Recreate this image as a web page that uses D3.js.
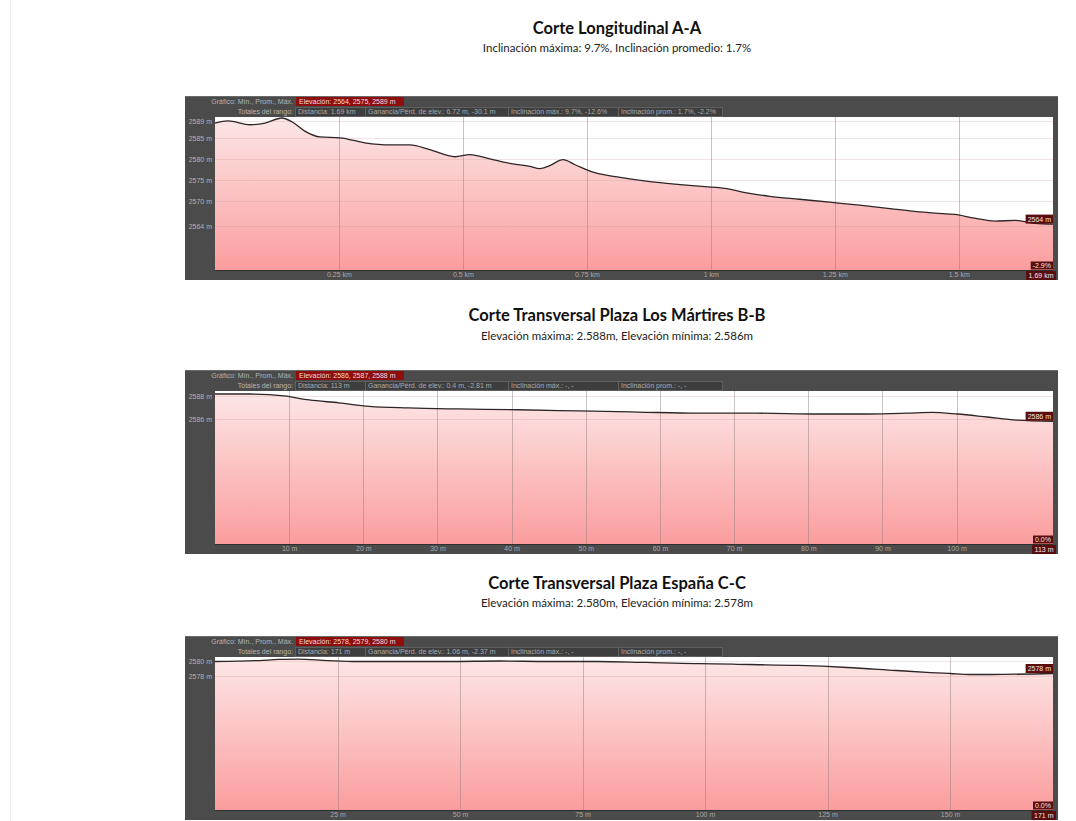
<!DOCTYPE html>
<html><head><meta charset="utf-8">
<script src="https://cdn.jsdelivr.net/npm/d3@7"></script>
<style>
html,body{margin:0;padding:0;background:#fff;}
svg{display:block;}
</style></head>
<body>
<svg id="chart" width="1076" height="821"></svg>
<script>
// ---------- DATA ----------
const titles = ["Corte Longitudinal A-A", "Corte Transversal Plaza Los Mártires B-B", "Corte Transversal Plaza España C-C"];
const subtitles = ["Inclinación máxima: 9.7%, Inclinación promedio: 1.7%", "Elevación máxima: 2.588m, Elevación mínima: 2.586m", "Elevación máxima: 2.580m, Elevación mínima: 2.578m"];
const elevSummary = ["Elevación: 2564, 2575, 2589 m", "Elevación: 2586, 2587, 2588 m", "Elevación: 2578, 2579, 2580 m"];
const distSummary = ["Distancia: 1.69 km", "Distancia: 113 m", "Distancia: 171 m"];
const gainSummary = ["Ganancia/Pérd. de elev.: 6.72 m, -30.1 m", "Ganancia/Pérd. de elev.: 0.4 m, -2.81 m", "Ganancia/Pérd. de elev.: 1.06 m, -2.37 m"];
const slopeMaxSummary = ["Inclinación máx.: 9.7%, -12.6%", "Inclinación máx.: -, -", "Inclinación máx.: -, -"];
const slopeAvgSummary = ["Inclinación prom.: 1.7%, -2.2%", "Inclinación prom.: -, -", "Inclinación prom.: -, -"];
const endElevLabels = ["2564 m", "2586 m", "2578 m"];
const endSlopeLabels = ["-2.9%", "0.0%", "0.0%"];
const totalDistLabels = ["1.69 km", "113 m", "171 m"];

// Panel A (km, m)
const distA = [0,0.026,0.071,0.101,0.135,0.155,0.181,0.212,0.252,0.302,0.353,0.393,0.433,0.484,0.514,0.554,0.595,0.635,0.655,0.675,0.702,0.726,0.766,0.817,0.877,0.938,0.988,1.028,1.069,1.119,1.179,1.240,1.300,1.361,1.411,1.452,1.492,1.532,1.573,1.613,1.653,1.69];
const elevA = [2588.5,2589.0,2588.1,2588.5,2589.7,2588.8,2586.6,2585.2,2585.0,2583.8,2583.3,2583.3,2582.2,2580.5,2581.0,2580.0,2578.9,2578.2,2577.7,2578.4,2579.8,2578.6,2576.7,2575.6,2574.6,2573.9,2573.4,2573.0,2572.0,2571.1,2570.4,2569.7,2569.0,2568.2,2567.5,2567.1,2566.8,2565.9,2565.2,2565.4,2564.7,2564.5];
const yTicksA = [2589,2585,2580,2575,2570,2564];
const xTicksA = [0.25,0.5,0.75,1,1.25,1.5];
const xTickLabelsA = ["0.25 km","0.5 km","0.75 km","1 km","1.25 km","1.5 km"];

// Panel B (m, m)
const distB = [0,4.6,9.3,12.7,16.7,20.8,26.1,32.8,40.9,49.0,57.0,65.1,73.1,81.3,88.0,93.3,96.7,100.1,104.1,108.1,113];
const elevB = [2588.17,2588.17,2588.0,2587.65,2587.4,2587.1,2586.96,2586.87,2586.8,2586.7,2586.6,2586.5,2586.5,2586.43,2586.43,2586.5,2586.57,2586.43,2586.17,2585.9,2585.8];
const yTicksB = [2588,2586];
const xTicksB = [10,20,30,40,50,60,70,80,90,100];
const xTickLabelsB = ["10 m","20 m","30 m","40 m","50 m","60 m","70 m","80 m","90 m","100 m"];

// Panel C (m, m)
const distC = [0,9,13,17,23,29,38,48,58,68,78,88,98,99,109,119,129,139,146,150,154,158,171];
const elevC = [2580.0,2580.13,2580.27,2580.33,2580.13,2580.0,2580.0,2580.0,2580.07,2580.0,2580.0,2579.87,2579.73,2579.73,2579.6,2579.47,2579.2,2578.8,2578.53,2578.4,2578.27,2578.27,2578.4];
const yTicksC = [2580,2578];
const xTicksC = [25,50,75,100,125,150];
const xTickLabelsC = ["25 m","50 m","75 m","100 m","125 m","150 m"];

// ---------- LAYOUT ----------
const svg = d3.select("#chart");
const defs = svg.append("defs");
const frameX0 = 185, frameX1 = 1058, plotX0 = 215, plotX1 = 1053;
const uiFont = "'Liberation Sans', Arial, sans-serif";
const uiSize = 7;
const titleFont = "Lato, 'Open Sans', sans-serif";

svg.append("line").attr("x1",10.5).attr("x2",10.5).attr("y1",0).attr("y2",821).attr("stroke","#efefef");

const panels = [
  {dist:distA, elev:elevA, yTicks:yTicksA, xTicks:xTicksA, xLabels:xTickLabelsA, maxD:1.69,
   titleY:34, subY:52, frameTop:96, yTop:2589.94, yBot:2553.6},
  {dist:distB, elev:elevB, yTicks:yTicksB, xTicks:xTicksB, xLabels:xTickLabelsB, maxD:113,
   titleY:321, subY:340, frameTop:370, yTop:2588.43, yBot:2575.13},
  {dist:distC, elev:elevC, yTicks:yTicksC, xTicks:xTicksC, xLabels:xTickLabelsC, maxD:171,
   titleY:589, subY:607, frameTop:636, yTop:2580.6, yBot:2560.2}
];

panels.forEach((p, i) => {
  const g = svg.append("g");
  const plotTop = p.frameTop + 21, plotBottom = p.frameTop + 174, frameBottom = p.frameTop + 184;
  g.append("text").attr("x",617).attr("y",p.titleY).attr("text-anchor","middle")
    .attr("font-family",titleFont).attr("font-weight","bold").attr("font-size",16.5).attr("fill","#111")
    .text(titles[i]);
  g.append("text").attr("x",617).attr("y",p.subY).attr("text-anchor","middle")
    .attr("font-family",titleFont).attr("font-size",11.5).attr("fill","#222")
    .text(subtitles[i]);

  g.append("rect").attr("x",frameX0).attr("y",p.frameTop).attr("width",frameX1-frameX0).attr("height",frameBottom-p.frameTop)
    .attr("fill","#4b4b4b");
  g.append("rect").attr("x",frameX0).attr("y",p.frameTop).attr("width",frameX1-frameX0).attr("height",1).attr("fill","#6a6a6a");

  const x = d3.scaleLinear().domain([0,p.maxD]).range([plotX0,plotX1]);
  const y = d3.scaleLinear().domain([p.yBot,p.yTop]).range([plotBottom,plotTop]);

  g.append("rect").attr("x",plotX0).attr("y",plotTop).attr("width",plotX1-plotX0).attr("height",plotBottom-plotTop).attr("fill","#ffffff");

  const gid = "grad"+i;
  const grad = defs.append("linearGradient").attr("id",gid).attr("gradientUnits","userSpaceOnUse")
    .attr("x1",0).attr("x2",0).attr("y1",plotTop).attr("y2",plotBottom);
  grad.append("stop").attr("offset","0%").attr("stop-color","#fde7e7");
  grad.append("stop").attr("offset","100%").attr("stop-color","#fb9d9e");

  const pts = p.dist.map((d,k)=>[d,p.elev[k]]);
  const area = d3.area().x(d=>x(d[0])).y0(plotBottom).y1(d=>y(d[1])).curve(d3.curveMonotoneX);
  const line = d3.line().x(d=>x(d[0])).y(d=>y(d[1])).curve(d3.curveMonotoneX);
  g.append("path").datum(pts).attr("d",area).attr("fill","url(#"+gid+")");

  g.selectAll(null).data(p.yTicks).enter().append("line")
    .attr("x1",plotX0).attr("x2",plotX1).attr("y1",d=>Math.round(y(d))+0.5).attr("y2",d=>Math.round(y(d))+0.5)
    .attr("stroke","#c98e8e").attr("stroke-opacity",0.25);
  g.selectAll(null).data(p.xTicks).enter().append("line")
    .attr("x1",d=>Math.round(x(d))+0.5).attr("x2",d=>Math.round(x(d))+0.5).attr("y1",plotTop).attr("y2",plotBottom)
    .attr("stroke","#8c7a7a").attr("stroke-opacity",0.45);

  g.append("path").datum(pts).attr("d",line).attr("fill","none").attr("stroke","#2e2626").attr("stroke-width",1.3);

  g.append("line").attr("x1",plotX0).attr("x2",plotX1).attr("y1",plotBottom+0.5).attr("y2",plotBottom+0.5).attr("stroke","#2f2f2f");

  const xAxis = d3.axisBottom(x).tickValues(p.xTicks).tickFormat((d,k)=>p.xLabels[k]).tickSize(0).tickPadding(2);
  const xg = g.append("g").attr("transform","translate(0,"+plotBottom+")").call(xAxis);
  xg.select(".domain").remove();
  xg.selectAll("text").attr("font-family",uiFont).attr("font-size",uiSize).attr("fill","#a9a9a9");

  const yAxis = d3.axisLeft(y).tickValues(p.yTicks).tickFormat(d=>d+" m").tickSize(0).tickPadding(3);
  const yg = g.append("g").attr("transform","translate("+plotX0+",0)").call(yAxis);
  yg.select(".domain").remove();
  yg.selectAll("text").attr("font-family",uiFont).attr("font-size",uiSize).attr("fill","#b3b3b3");

  // Header row 1
  const r1 = p.frameTop + 8;
  g.append("text").attr("x",293).attr("y",r1).attr("text-anchor","end").attr("font-family",uiFont).attr("font-size",uiSize).attr("fill","#b5b5b5")
    .text("Gráfico: Mín., Prom., Máx.");
  g.append("rect").attr("x",296).attr("y",p.frameTop+1).attr("width",108).attr("height",9).attr("fill","#8e0e0e");
  g.append("text").attr("x",299).attr("y",r1).attr("font-family",uiFont).attr("font-size",uiSize).attr("fill","#f2dada")
    .text(elevSummary[i]);

  // Header row 2
  const r2 = p.frameTop + 18;
  g.append("text").attr("x",293).attr("y",r2).attr("text-anchor","end").attr("font-family",uiFont).attr("font-size",uiSize).attr("fill","#b5b5b5")
    .text("Totales del rango:");
  const boxes = [[295,365,distSummary[i]],[365,508,gainSummary[i]],[508,618,slopeMaxSummary[i]],[618,722,slopeAvgSummary[i]]];
  boxes.forEach(b=>{
    g.append("rect").attr("x",b[0]+0.5).attr("y",p.frameTop+11.5).attr("width",b[1]-b[0]).attr("height",9)
      .attr("fill","#3e3e3e").attr("stroke","#666").attr("stroke-width",0.8);
    g.append("text").attr("x",b[0]+3).attr("y",r2).attr("font-family",uiFont).attr("font-size",uiSize).attr("fill","#aaaaaa").text(b[2]);
  });

  // end labels
  const lastY = y(p.elev[p.elev.length-1]);
  const addTag = (txt, yc, h) => {
    const t = g.append("text").attr("font-family",uiFont).attr("font-size",uiSize).attr("fill","#f4e4e4").text(txt);
    const w = t.node().getComputedTextLength()+4;
    g.append("rect").attr("x",plotX1-w).attr("y",yc-h/2).attr("width",w).attr("height",h).attr("fill","#5a0d0d");
    t.raise().attr("x",plotX1-w+2).attr("y",yc+2.5);
  };
  addTag(endElevLabels[i], lastY-5, 9);
  addTag(endSlopeLabels[i], plotBottom-4.5, 8);
  const t = g.append("text").attr("font-family",uiFont).attr("font-size",uiSize).attr("fill","#f4e4e4").text(totalDistLabels[i]);
  const w = t.node().getComputedTextLength()+5;
  g.append("rect").attr("x",frameX1-w-2).attr("y",plotBottom+1).attr("width",w).attr("height",frameBottom-plotBottom-1).attr("fill","#5a0d0d");
  t.raise().attr("x",frameX1-w+0.5).attr("y",plotBottom+8);
});
</script>
</body></html>
